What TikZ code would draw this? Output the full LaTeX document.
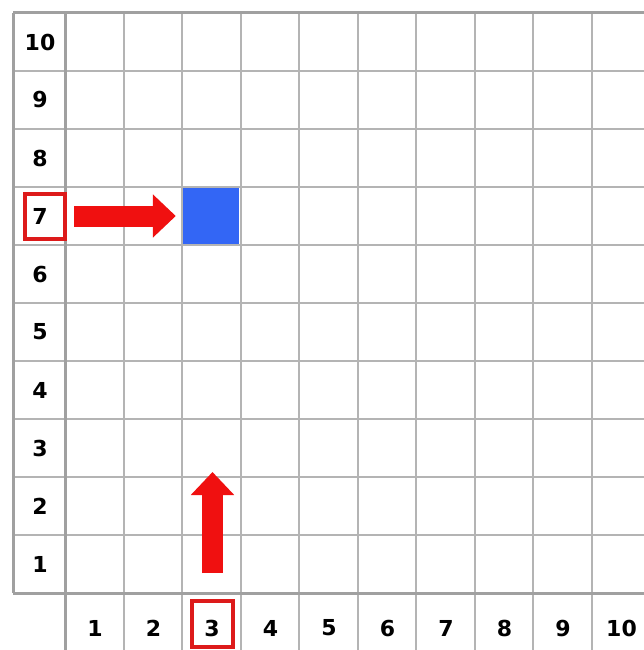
\documentclass[tikz,border=0pt]{standalone}
\usepackage{fontspec}
\setmainfont{DejaVu Sans}
\usetikzlibrary{arrows.meta}
\definecolor{gridgray}{HTML}{B4B4B4}
\definecolor{bordergray}{HTML}{A0A0A0}
\definecolor{arrowred}{HTML}{F01010}
\definecolor{boxred}{HTML}{DD1A1A}
\definecolor{cellblue}{HTML}{3366F5}
\begin{document}
\begin{tikzpicture}[x=1pt,y=-1pt,
  gridline/.style={draw=gridgray,line width=2pt},
  borderline/.style={draw=bordergray,line width=3pt},
  lab/.style={font=\fontsize{22}{22}\selectfont\bfseries,text=black,inner sep=0pt},
  redbox/.style={draw=boxred,line width=4pt,fill=white,inner sep=0pt},
  bigarrow/.style={draw=arrowred,line width=21pt,-{Triangle[width=42pt,length=23pt]}}]
\useasboundingbox (0,0) rectangle (644,650);
\fill[white] (0,0) rectangle (644,650);
% grid
\foreach \k in {1,...,9} \draw[gridline] (13,{13+58*\k}) -- (644,{13+58*\k});
\foreach \k in {1,...,9} \draw[gridline] ({65+58.5*\k},13) -- ({65+58.5*\k},650);
\draw[borderline] (13,13) -- (644,13);
\draw[borderline] (13,13) -- (13,593);
\draw[borderline] (65,13) -- (65,650);
\draw[borderline] (13,593) -- (644,593);
% blue cell
\node[fill=cellblue,minimum size=56pt,inner sep=0pt] (blue) at (211,216) {};
% red boxes
\node[redbox,minimum width=40pt,minimum height=45pt] (b7) at (45,216) {};
\node[redbox,minimum width=41pt,minimum height=46pt] (b3) at (212.5,624) {};
% row labels
\foreach \i in {1,...,10} \node[lab] (r\i) at (40,{13+58*(10-\i)+29}) {\i};
% column labels
\foreach \i in {1,...,10} \node[lab] (c\i) at ({65+58.5*(\i-1)+30},628) {\i};
% arrows
\draw[bigarrow,shorten <=7pt,shorten >=7pt] (b7.east) -- (blue.west);
\coordinate (uptip) at (212.5,472);
\draw[bigarrow,shorten <=26pt] (b3.north) -- (uptip);
\end{tikzpicture}
\end{document}
